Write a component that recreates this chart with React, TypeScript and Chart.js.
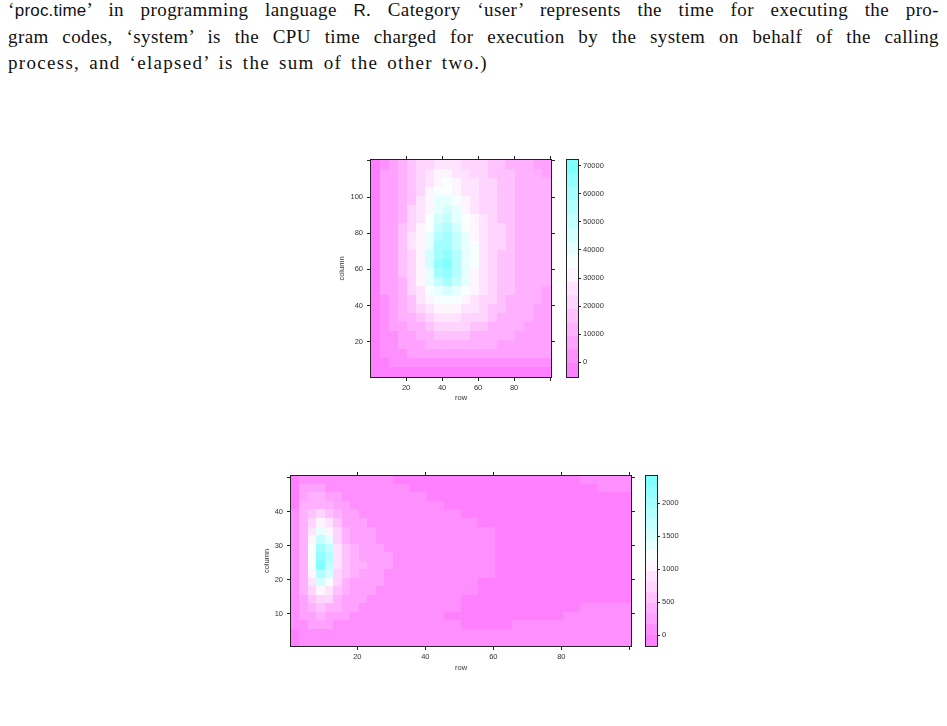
import React, { useEffect, useRef } from "react";
import { Chart, registerables } from "chart.js";

Chart.register(...registerables);

if (typeof document !== "undefined") {
  document.body.style.margin = "0";
}

// ---------- colour bands (lattice default regions: reversed cm.colors) ----------
const PALETTE = [
  "#FF80FF", "#FF8FFF", "#FFA1FF", "#FFB0FF", "#FFC2FF", "#FFD4FF", "#FFE3FF", "#FFF5FF",
  "#F7FFFF", "#E6FFFF", "#D4FFFF", "#C4FFFF", "#B3FFFF", "#A3FFFF", "#91FFFF", "#80FFFF",
];

// ---------- top level plot (values in thousands) ----------
const topBreaks = [-5240, -410, 4420, 9250, 14080, 18910, 23740, 28570, 33400, 38230, 43060, 47890, 52720, 57550, 62380, 67210, 72040];
const topKeyTicks = [0, 10000, 20000, 30000, 40000, 50000, 60000, 70000];
const topXEdges = [0.5, 5.5, 10.5, 15.5, 20.5, 25.5, 30.5, 35.5, 40.5, 45.5, 50.5, 55.5, 60.5, 65.5, 70.5, 75.5, 80.5, 85.5, 90.5, 95.5, 100.5];
const topYEdges = [120.5, 115.5, 110.5, 105.5, 100.5, 95.5, 90.5, 85.5, 80.5, 75.5, 70.5, 65.5, 60.5, 55.5, 50.5, 45.5, 40.5, 35.5, 30.5, 25.5, 20.5, 15.5, 10.5, 5.5, 0.5];
const topXTicks = [20, 40, 60, 80, 100];
const topXLabels = ["20", "40", "60", "80", ""];
const topYTicks = [20, 40, 60, 80, 100, 120];
const topYLabels = ["20", "40", "60", "80", "100", ""];

const topY118 = [-1, 4, 7, 11, 15, 19, 23, 27, 28, 26, 23, 21, 19, 17, 15, 14, 12, 11, 9, 8];
const topY113 = [-1, 5, 7, 12, 17, 22, 26, 30, 31, 28, 25, 22, 20, 18, 16, 15, 14, 12, 11, 9];
const topY108 = [-1, 5, 8, 12, 18, 23, 28, 33, 35, 31, 27, 24, 21, 19, 17, 15, 14, 13, 11, 10];
const topY103 = [-1, 5, 8, 13, 18, 23, 29, 36, 38, 33, 28, 25, 22, 20, 17, 15, 14, 13, 11, 10];
const topY98 = [-1, 5, 8, 13, 18, 24, 31, 39, 42, 36, 30, 26, 23, 20, 18, 16, 14, 13, 11, 10];
const topY93 = [-1, 5, 8, 14, 19, 25, 33, 42, 46, 39, 32, 27, 23, 21, 18, 16, 14, 13, 11, 10];
const topY88 = [-1, 5, 9, 14, 21, 27, 35, 46, 50, 42, 34, 29, 25, 21, 18, 16, 14, 13, 11, 10];
const topY83 = [-1, 5, 9, 15, 22, 29, 38, 50, 54, 45, 36, 31, 26, 22, 19, 16, 14, 12, 11, 10];
const topY78 = [-1, 5, 9, 16, 24, 31, 41, 54, 58, 49, 39, 33, 27, 22, 19, 16, 14, 12, 11, 10];
const topY73 = [-1, 5, 9, 16, 24, 32, 43, 58, 62, 52, 41, 34, 27, 22, 19, 16, 14, 12, 11, 10];
const topY68 = [-1, 5, 9, 16, 23, 32, 44, 61, 66, 54, 42, 34, 27, 22, 18, 16, 14, 12, 11, 10];
const topY63 = [-1, 5, 9, 15, 22, 31, 44, 64, 69, 55, 42, 34, 27, 22, 18, 16, 14, 12, 11, 10];
const topY58 = [-1, 5, 9, 15, 22, 30, 42, 60, 66, 54, 41, 33, 26, 21, 18, 15, 13, 12, 11, 10];
const topY53 = [-1, 5, 8, 14, 21, 29, 39, 52, 58, 49, 39, 32, 26, 21, 17, 15, 13, 12, 11, 10];
const topY48 = [-1, 5, 8, 13, 20, 27, 35, 43, 47, 43, 36, 30, 25, 20, 17, 15, 13, 11, 10, 9];
const topY43 = [-1, 4, 7, 12, 18, 25, 31, 36, 38, 36, 32, 28, 23, 19, 16, 14, 12, 11, 10, 9];
const topY38 = [-2, 4, 6, 11, 16, 22, 27, 31, 32, 31, 28, 25, 21, 18, 15, 13, 12, 10, 9, 9];
const topY33 = [-2, 3, 6, 10, 14, 18, 22, 25, 26, 25, 23, 21, 19, 16, 14, 12, 11, 10, 9, 8];
const topY28 = [-2, 3, 5, 8, 11, 14, 17, 19, 20, 20, 19, 17, 16, 14, 12, 11, 10, 9, 8, 8];
const topY23 = [-2, 2, 4, 7, 9, 12, 14, 15, 16, 16, 15, 14, 13, 12, 11, 10, 9, 8, 7, 7];
const topY18 = [-2, 1, 3, 5, 7, 9, 11, 12, 12, 12, 12, 11, 10, 10, 9, 8, 8, 7, 6, 6];
const topY13 = [-2, 0, 2, 4, 5, 7, 8, 8, 9, 9, 8, 8, 8, 7, 7, 6, 6, 5, 5, 5];
const topY8 = [-3, -1, 1, 2, 2, 3, 3, 4, 4, 4, 4, 4, 4, 3, 3, 3, 3, 3, 3, 3];
const topY3 = [-3, -2, -1, -1, -1, -1, -1, -1, -1, -1, -1, -1, -1, -1, -1, -1, -1, -1, -1, -1];

const topRows = [topY118, topY113, topY108, topY103, topY98, topY93, topY88, topY83, topY78, topY73, topY68, topY63,
  topY58, topY53, topY48, topY43, topY38, topY33, topY28, topY23, topY18, topY13, topY8, topY3];

// ---------- bottom level plot (raw values) ----------
const botBreaks = [-160, 1, 162, 323, 484, 644, 805, 966, 1127, 1288, 1449, 1610, 1771, 1931, 2092, 2253, 2414];
const botKeyTicks = [0, 500, 1000, 1500, 2000];
const botXEdges = [0.5, 3, 5.5, 8, 10.5, 13, 15.5, 18, 20.5, 23, 25.5, 28, 30.5, 35.5, 40.5, 45.5, 50.5, 55.5, 60.5, 65.5, 70.5, 75.5, 80.5, 85.5, 90.5, 95.5, 100.5];
const botYEdges = [50.5, 48, 45.5, 43, 40.5, 38, 35.5, 33, 30.5, 28, 25.5, 23, 20.5, 18, 15.5, 13, 10.5, 8, 5.5, 3, 0.5];
const botXTicks = [20, 40, 60, 80, 100];
const botXLabels = ["20", "40", "60", "80", ""];
const botYTicks = [10, 20, 30, 40, 50];
const botYLabels = ["10", "20", "30", "40", ""];

const botY49 = [-50, 60, 90, 100, 90, 80, 60, 40, 30, 20, 10, 5, -10, -30, -30, -30, -30, -30, -30, -30, -30, -30, -10, 20, 30, 30];
const botY46 = [-40, 180, 200, 190, 150, 130, 110, 90, 70, 50, 40, 30, 20, -10, -30, -30, -30, -30, -30, -30, -30, -30, -30, -20, 10, 10];
const botY44 = [-20, 260, 330, 330, 280, 200, 150, 120, 100, 80, 60, 50, 30, 10, -20, -30, -30, -30, -30, -30, -30, -30, -30, -30, -30, -30];
const botY41 = [0, 330, 450, 480, 420, 300, 200, 150, 120, 100, 80, 70, 50, 30, 10, -10, -30, -30, -30, -30, -30, -30, -30, -30, -30, -30];
const botY39 = [20, 380, 600, 680, 580, 400, 260, 190, 150, 120, 100, 80, 60, 40, 20, 5, -20, -30, -30, -30, -30, -30, -30, -30, -30, -30];
const botY36 = [40, 420, 800, 1000, 850, 520, 320, 230, 180, 150, 120, 100, 80, 50, 30, 20, 5, -20, -30, -30, -30, -30, -30, -30, -30, -30];
const botY34 = [60, 450, 950, 1300, 1100, 650, 380, 270, 210, 170, 140, 110, 90, 60, 40, 30, 15, 5, -30, -30, -30, -30, -30, -30, -30, -30];
const botY31 = [70, 470, 1100, 1650, 1400, 780, 450, 320, 250, 200, 160, 130, 100, 70, 50, 40, 25, 10, -20, -30, -30, -30, -30, -30, -30, -30];
const botY29 = [80, 480, 1200, 1950, 1650, 880, 500, 360, 290, 230, 190, 150, 110, 80, 60, 45, 30, 15, -20, -30, -30, -30, -30, -30, -30, -30];
const botY26 = [90, 480, 1280, 2250, 1800, 920, 540, 400, 320, 270, 220, 180, 130, 90, 70, 50, 35, 20, -20, -30, -30, -30, -30, -30, -30, -30];
const botY24 = [90, 470, 1250, 2300, 1750, 900, 550, 420, 340, 290, 240, 200, 140, 90, 70, 50, 35, 20, -20, -30, -30, -30, -30, -30, -30, -30];
const botY21 = [80, 440, 1100, 1900, 1500, 800, 500, 380, 300, 250, 200, 160, 120, 80, 60, 45, 30, 10, -20, -30, -30, -30, -30, -30, -30, -30];
const botY19 = [70, 400, 950, 1500, 1200, 680, 430, 320, 260, 210, 170, 140, 100, 70, 50, 35, 20, -10, -30, -30, -30, -30, -30, -30, -30, -30];
const botY16 = [60, 350, 780, 1100, 950, 560, 360, 270, 220, 180, 140, 110, 80, 60, 40, 25, 10, -30, -30, -30, -30, -30, -30, -30, -30, -30];
const botY14 = [50, 300, 600, 800, 700, 450, 300, 220, 180, 140, 110, 90, 70, 50, 30, 15, -10, -30, -30, -30, -30, -30, -30, -30, -30, -30];
const botY11 = [40, 250, 430, 520, 460, 340, 240, 180, 140, 110, 90, 70, 50, 40, 20, 5, -30, -30, -30, -30, -30, -30, -20, 10, 20, 20];
const botY9 = [30, 190, 300, 330, 300, 230, 170, 130, 100, 80, 60, 50, 40, 20, 5, -10, -20, -20, -10, 0, -10, -5, 10, 20, 30, 30];
const botY6 = [20, 120, 180, 200, 180, 140, 110, 90, 70, 60, 50, 40, 30, 20, 10, 5, -5, -10, -5, 5, 10, 15, 20, 30, 40, 40];
const botY4 = [-30, 30, 60, 80, 70, 50, 40, 30, 20, 15, 10, 10, 5, 5, 10, 10, 15, 20, 20, 25, 30, 30, 30, 30, 30, 30];
const botY1 = [-40, 10, 30, 40, 30, 30, 30, 30, 30, 30, 30, 30, 30, 30, 30, 30, 30, 30, 30, 30, 30, 30, 30, 30, 30, 30];

const botRows = [botY49, botY46, botY44, botY41, botY39, botY36, botY34, botY31, botY29, botY26, botY24, botY21, botY19,
  botY16, botY14, botY11, botY9, botY6, botY4, botY1];

// ---------- styling ----------
const TICK_FONT = { family: '"Liberation Sans", Arial, Helvetica, sans-serif', size: 7.5 };
const TEXT_COLOR = "#333";
const LINE_COLOR = "#222";

function bandColor(v: number, breaks: number[]) {
  for (let k = 0; k < breaks.length - 1; k++) {
    if (v < breaks[k + 1]) return PALETTE[k];
  }
  return PALETTE[PALETTE.length - 1];
}

const boxPlugin = {
  id: "panelBox",
  afterDraw(chart: any) {
    const { ctx, chartArea: a } = chart;
    ctx.save();
    ctx.strokeStyle = LINE_COLOR;
    ctx.lineWidth = 1;
    ctx.strokeRect(Math.round(a.left) - 0.5, Math.round(a.top) - 0.5, Math.round(a.right - a.left) + 1, Math.round(a.bottom - a.top) + 1);
    ctx.restore();
  },
};

function linAxis(opts: any) {
  const horizontal = opts.position === "top" || opts.position === "bottom";
  return {
    type: "linear",
    position: opts.position,
    min: opts.min,
    max: opts.max,
    afterBuildTicks: (s: any) => {
      s.ticks = opts.ticks.map((v: number) => ({ value: v }));
    },
    ticks: {
      autoSkip: false,
      maxRotation: 0,
      minRotation: 0,
      padding: opts.pad,
      font: TICK_FONT,
      color: TEXT_COLOR,
      callback: (_v: any, i: number) => (opts.labels ? opts.labels[i] : ""),
    },
    grid: { drawOnChartArea: false, drawTicks: true, tickLength: 4, color: LINE_COLOR, lineWidth: 1 },
    border: { display: false },
    title: opts.title
      ? { display: true, text: opts.title, font: TICK_FONT, color: TEXT_COLOR, padding: opts.titlePad }
      : { display: false },
    afterFit: (s: any) => {
      if (horizontal) s.height = opts.size;
      else s.width = opts.size;
    },
  };
}

function makeHeat(canvas: HTMLCanvasElement, cfg: any) {
  const heatPlugin = {
    id: "heatCells",
    beforeDatasetsDraw(chart: any) {
      const { ctx, chartArea: a } = chart;
      const xs = chart.scales.x;
      const ys = chart.scales.y;
      ctx.save();
      ctx.beginPath();
      ctx.rect(a.left, a.top, a.right - a.left, a.bottom - a.top);
      ctx.clip();
      cfg.rows.forEach((row: number[], r: number) => {
        const yA = ys.getPixelForValue(cfg.yEdges[r]);
        const yB = ys.getPixelForValue(cfg.yEdges[r + 1]);
        row.forEach((v: number, c: number) => {
          const xA = xs.getPixelForValue(cfg.xEdges[c]);
          const xB = xs.getPixelForValue(cfg.xEdges[c + 1]);
          ctx.fillStyle = bandColor(v * cfg.unit, cfg.breaks);
          const x0 = Math.floor(Math.min(xA, xB));
          const y0 = Math.floor(Math.min(yA, yB));
          ctx.fillRect(x0, y0, Math.ceil(Math.max(xA, xB)) - x0 + 1, Math.ceil(Math.max(yA, yB)) - y0 + 1);
        });
      });
      ctx.restore();
    },
  };
  return new Chart(canvas, {
    type: "scatter",
    data: { datasets: [{ data: [] }] },
    options: {
      animation: false,
      responsive: false,
      events: [],
      layout: { padding: 0 },
      plugins: { legend: { display: false }, tooltip: { enabled: false } },
      scales: {
        x: linAxis({ position: "bottom", min: cfg.xMin, max: cfg.xMax, ticks: cfg.xTicks, labels: cfg.xLabels, pad: 2, size: 33, title: "row", titlePad: { top: 0, bottom: cfg.xTitlePad } }),
        x2: linAxis({ position: "top", min: cfg.xMin, max: cfg.xMax, ticks: cfg.xTicks, labels: null, pad: 0, size: 15 }),
        y: linAxis({ position: "left", min: cfg.yMin, max: cfg.yMax, ticks: cfg.yTicks, labels: cfg.yLabels, pad: 4, size: 51, title: "column", titlePad: { top: cfg.yTitlePad, bottom: 0 } }),
        y2: linAxis({ position: "right", min: cfg.yMin, max: cfg.yMax, ticks: cfg.yTicks, labels: null, pad: 0, size: 9 }),
      },
    } as any,
    plugins: [heatPlugin, boxPlugin],
  });
}

function makeKey(canvas: HTMLCanvasElement, breaks: number[], keyTicks: number[], padLeft: number, width: number) {
  return new Chart(canvas, {
    type: "bar",
    data: {
      labels: ["key"],
      datasets: PALETTE.map((col, k) => ({
        data: [[breaks[k], breaks[k + 1]]],
        backgroundColor: col,
        borderWidth: 0,
        barPercentage: 1,
        categoryPercentage: 1,
        grouped: false,
        inflateAmount: 0.4,
      })),
    },
    options: {
      animation: false,
      responsive: false,
      events: [],
      layout: { padding: { left: padLeft, right: 0, top: 15, bottom: 33 } },
      plugins: { legend: { display: false }, tooltip: { enabled: false } },
      scales: {
        x: { display: false },
        y: {
          position: "right",
          min: breaks[0],
          max: breaks[breaks.length - 1],
          afterBuildTicks: (s: any) => {
            s.ticks = keyTicks.map((v) => ({ value: v }));
          },
          ticks: { font: TICK_FONT, color: TEXT_COLOR, padding: 2, callback: (v: any) => String(v) },
          grid: { drawOnChartArea: false, drawTicks: true, tickLength: 3, color: LINE_COLOR },
          border: { display: false },
          afterFit: (s: any) => {
            s.width = width;
          },
        },
      },
    } as any,
    plugins: [boxPlugin],
  });
}

const serif = '"Liberation Serif", "Times New Roman", serif';
const sans = '"Liberation Sans", Arial, sans-serif';

export default function App() {
  const topRef = useRef<HTMLCanvasElement>(null);
  const topKeyRef = useRef<HTMLCanvasElement>(null);
  const botRef = useRef<HTMLCanvasElement>(null);
  const botKeyRef = useRef<HTMLCanvasElement>(null);

  useEffect(() => {
    const charts: Chart[] = [];
    if (topRef.current)
      charts.push(
        makeHeat(topRef.current, {
          rows: topRows, xEdges: topXEdges, yEdges: topYEdges, breaks: topBreaks, unit: 1000,
          xMin: 0.5, xMax: 100.5, yMin: 0.5, yMax: 120.5,
          xTicks: topXTicks, xLabels: topXLabels, yTicks: topYTicks, yLabels: topYLabels,
          xTitlePad: 7.5, yTitlePad: 17.5,
        })
      );
    if (topKeyRef.current) charts.push(makeKey(topKeyRef.current, topBreaks, topKeyTicks, 7, 52));
    if (botRef.current)
      charts.push(
        makeHeat(botRef.current, {
          rows: botRows, xEdges: botXEdges, yEdges: botYEdges, breaks: botBreaks, unit: 1,
          xMin: 0.5, xMax: 100.5, yMin: 0.5, yMax: 50.5,
          xTicks: botXTicks, xLabels: botXLabels, yTicks: botYTicks, yLabels: botYLabels,
          xTitlePad: 7, yTitlePad: 22.5,
        })
      );
    if (botKeyRef.current) charts.push(makeKey(botKeyRef.current, botBreaks, botKeyTicks, 6, 53));
    return () => charts.forEach((c) => c.destroy());
  }, []);

  const line12: React.CSSProperties = {
    height: "26.7px",
    lineHeight: "26.7px",
    textAlign: "justify",
    textAlignLast: "justify",
    letterSpacing: "0.4px",
  };
  const sansSpan: React.CSSProperties = { fontFamily: sans, fontSize: 17, letterSpacing: "0.2px" };

  return (
    <div style={{ position: "relative", width: 947, height: 726 }}>
      <div style={{ position: "absolute", left: 8, top: -3, width: 931, fontFamily: serif, fontSize: 19, color: "#111" }}>
        <div style={line12}>
          ‘<span style={sansSpan}>proc.time</span>’ in programming language <span style={sansSpan}>R</span>. Category ‘user’ represents the time for executing the pro-
        </div>
        <div style={line12}>
          gram codes, ‘system’ is the CPU time charged for execution by the system on behalf of the calling
        </div>
        <div style={{ height: "26.7px", lineHeight: "26.7px", textAlign: "left", letterSpacing: "1.3px", wordSpacing: "3px" }}>
          process, and ‘elapsed’ is the sum of the other two.)
        </div>
      </div>
      <canvas ref={topRef} width={240} height={265} style={{ position: "absolute", left: 320, top: 145 }} />
      <canvas ref={topKeyRef} width={70} height={265} style={{ position: "absolute", left: 560, top: 145 }} />
      <canvas ref={botRef} width={400} height={218} style={{ position: "absolute", left: 240, top: 461 }} />
      <canvas ref={botKeyRef} width={70} height={218} style={{ position: "absolute", left: 640, top: 461 }} />
    </div>
  );
}
